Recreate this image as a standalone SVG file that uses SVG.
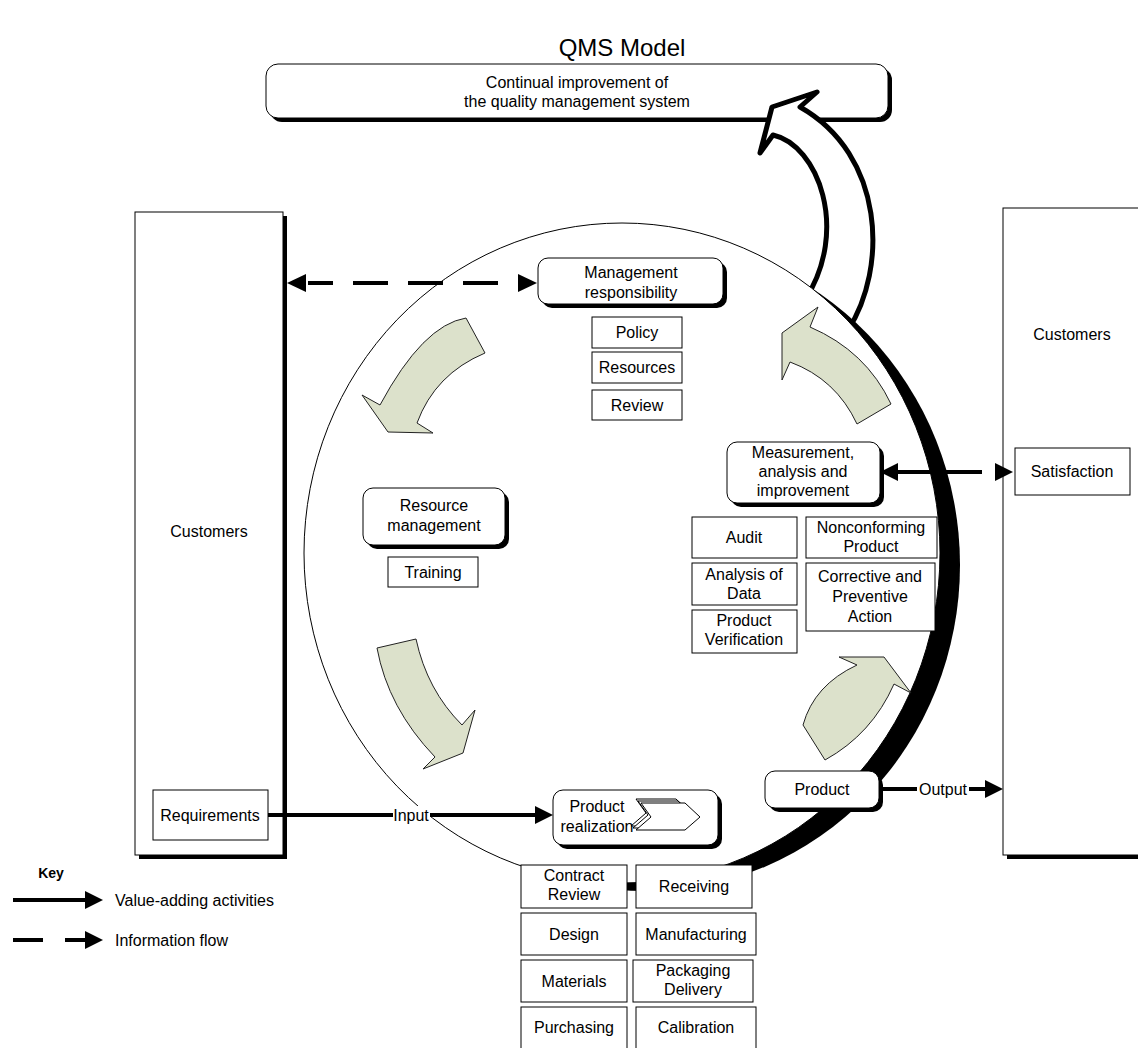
<svg xmlns="http://www.w3.org/2000/svg" width="1138" height="1048" viewBox="0 0 1138 1048">
<defs>
<style>
text{font-family:"Liberation Sans",Arial,sans-serif;font-size:16px;fill:#000;text-anchor:middle}
.box{fill:#fff;stroke:#000;stroke-width:1}
.sh{fill:#000}
.green{fill:#dce1cb;stroke:#222;stroke-width:1}
.ln{stroke:#000;stroke-width:4;fill:none}
.head{fill:#000}
</style>
</defs>
<rect width="1138" height="1048" fill="#fff"/>
<text x="622" y="56" style="font-size:24px">QMS Model</text>

<g id="continual-improvement">
<rect class="sh" x="270" y="68" width="622" height="54" rx="12"/>
<rect class="box" x="266" y="64" width="622" height="54" rx="12"/>
<text x="577" y="88">Continual improvement of</text>
<text x="577" y="107">the quality management system</text>
</g>

<g id="improvement-arrow">
<path d="M848,330 C888,268 885,155 800,107 L817,92 L772,107 L760,153 L773,135 C818,145 850,230 805,300 Z" fill="#fff" stroke="#000" stroke-width="5" stroke-linejoin="round"/>
</g>

<g id="process-circle">
<ellipse cx="646" cy="565" rx="314" ry="326" fill="#000"/>
<ellipse cx="622" cy="553" rx="318" ry="330" fill="#fff" stroke="#000" stroke-width="1"/>
</g>

<g id="customers-left">
<rect class="sh" x="139" y="216" width="148" height="643"/>
<rect class="box" x="135" y="212" width="148" height="643"/>
<text x="209" y="537">Customers</text>
</g>
<g id="requirements">
<rect class="box" x="153" y="790" width="115" height="50"/>
<text x="210" y="821">Requirements</text>
</g>

<g id="customers-right">
<rect class="sh" x="1007" y="212" width="140" height="647"/>
<rect class="box" x="1003" y="208" width="140" height="647"/>
<text x="1072" y="340">Customers</text>
</g>
<g id="satisfaction">
<rect class="box" x="1015" y="448" width="115" height="47"/>
<text x="1072" y="477">Satisfaction</text>
</g>

<g id="flow-arrows">
<path class="green" d="M466,318 Q423,325 380,405 L362,395 L388,432 L433,433 L417,423 Q435,374 485,353 Z"/>
<path class="green" d="M377,648 Q388,708 435,757 L423,769 L463,753 L475,710 L462,725 Q427,690 416,639 Z"/>
<path class="green" d="M825,760 L803,725 Q814,685 857,665 L839,657 L884,657 L911,693 L894,684 Q872,734 825,760 Z"/>
<path class="green" d="M891,404 Q866,351 810,327 L818,307 L782,333 L782,380 L790,362 Q836,379 857,424 Z"/>
</g>

<g id="management-responsibility">
<rect class="sh" x="542" y="262" width="185" height="46" rx="10"/>
<rect class="box" x="538" y="258" width="185" height="46" rx="10"/>
<text x="631" y="278">Management</text>
<text x="631" y="298">responsibility</text>
</g>
<g id="policy"><rect class="box" x="592" y="317" width="90" height="31"/><text x="637" y="338">Policy</text></g>
<g id="resources"><rect class="box" x="592" y="352" width="90" height="31"/><text x="637" y="373">Resources</text></g>
<g id="review"><rect class="box" x="592" y="390" width="90" height="30"/><text x="637" y="411">Review</text></g>

<g id="resource-management">
<rect class="sh" x="367" y="492" width="142" height="57" rx="10"/>
<rect class="box" x="363" y="488" width="142" height="57" rx="10"/>
<text x="434" y="511">Resource</text>
<text x="434" y="531">management</text>
</g>
<g id="training"><rect class="box" x="388" y="557" width="90" height="30"/><text x="433" y="578">Training</text></g>

<g id="measurement">
<rect class="sh" x="731" y="446" width="153" height="61" rx="10"/>
<rect class="box" x="727" y="442" width="153" height="61" rx="10"/>
<text x="803" y="458">Measurement,</text>
<text x="803" y="477">analysis and</text>
<text x="803" y="496">improvement</text>
</g>
<g id="audit"><rect class="box" x="692" y="517" width="105" height="41"/><text x="744" y="543">Audit</text></g>
<g id="analysis-of-data"><rect class="box" x="692" y="563" width="105" height="42"/><text x="744" y="580">Analysis of</text><text x="744" y="599">Data</text></g>
<g id="product-verification"><rect class="box" x="692" y="610" width="105" height="43"/><text x="744" y="626">Product</text><text x="744" y="645">Verification</text></g>
<g id="nonconforming-product"><rect class="box" x="806" y="517" width="131" height="41"/><text x="871" y="533">Nonconforming</text><text x="871" y="552">Product</text></g>
<g id="corrective-preventive"><rect class="box" x="806" y="563" width="129" height="68"/><text x="870" y="582">Corrective and</text><text x="870" y="602">Preventive</text><text x="870" y="622">Action</text></g>

<g id="product">
<rect class="sh" x="769" y="775" width="114" height="37" rx="10"/>
<rect class="box" x="765" y="771" width="114" height="37" rx="10"/>
<text x="822" y="795">Product</text>
</g>

<g id="product-realization">
<rect class="sh" x="557" y="794" width="165" height="55" rx="10"/>
<rect class="box" x="553" y="790" width="165" height="55" rx="10"/>
<path d="M636,799 L676,799 L691,813 L676,826 L631,826 L646,813 Z" fill="#fff" stroke="#000" stroke-width="1"/>
<path d="M638,801 L678,801 L693,815 L678,828 L633,828 L648,815 Z" fill="#fff" stroke="#000" stroke-width="1"/>
<path d="M641,803 L685,803 L700,817 L685,830 L636,830 L651,817 Z" fill="#fff" stroke="#000" stroke-width="1"/>
<text x="597" y="812">Product</text>
<text x="597" y="832">realization</text>
</g>

<g id="contract-review"><rect class="box" x="521" y="865" width="106" height="43"/><text x="574" y="881">Contract</text><text x="574" y="900">Review</text></g>
<g id="receiving"><rect class="box" x="636" y="865" width="116" height="43"/><text x="694" y="892">Receiving</text></g>
<g id="design"><rect class="box" x="521" y="913" width="106" height="42"/><text x="574" y="940">Design</text></g>
<g id="manufacturing"><rect class="box" x="636" y="913" width="120" height="42"/><text x="696" y="940">Manufacturing</text></g>
<g id="materials"><rect class="box" x="521" y="960" width="106" height="42"/><text x="574" y="987">Materials</text></g>
<g id="packaging-delivery"><rect class="box" x="633" y="960" width="120" height="42"/><text x="693" y="976">Packaging</text><text x="693" y="995">Delivery</text></g>
<g id="purchasing"><rect class="box" x="521" y="1007" width="106" height="43"/><text x="574" y="1033">Purchasing</text></g>
<g id="calibration"><rect class="box" x="636" y="1007" width="120" height="43"/><text x="696" y="1033">Calibration</text></g>

<g id="connectors">
<path class="ln" d="M308,283 H500" stroke-dasharray="35 20" stroke-dashoffset="10"/>
<polygon class="head" points="287,283 306,274 306,292"/>
<polygon class="head" points="537,283 518,274 518,292"/>
<path class="ln" d="M895,472 H982"/>
<polygon class="head" points="880,472 898,463 898,481"/>
<polygon class="head" points="1013,472 995,463 995,481"/>
<path class="ln" d="M268,815 H537"/>
<polygon class="head" points="553,815 535,806 535,824"/>
<rect x="393" y="806" width="37" height="18" fill="#fff"/>
<text x="411" y="821">Input</text>
<path class="ln" d="M880,789 H986"/>
<polygon class="head" points="1003,789 985,780 985,798"/>
<rect x="917" y="780" width="52" height="18" fill="#fff"/>
<text x="943" y="795">Output</text>
</g>

<g id="key">
<text x="51" y="878" style="font-size:14px;font-weight:bold">Key</text>
<path class="ln" d="M13,900 H86"/>
<polygon class="head" points="103,900 85,891 85,909"/>
<text x="115" y="906" style="text-anchor:start">Value-adding activities</text>
<path class="ln" d="M13,940 H43 M65,940 H86"/>
<polygon class="head" points="103,940 85,931 85,949"/>
<text x="115" y="946" style="text-anchor:start">Information flow</text>
</g>
</svg>
